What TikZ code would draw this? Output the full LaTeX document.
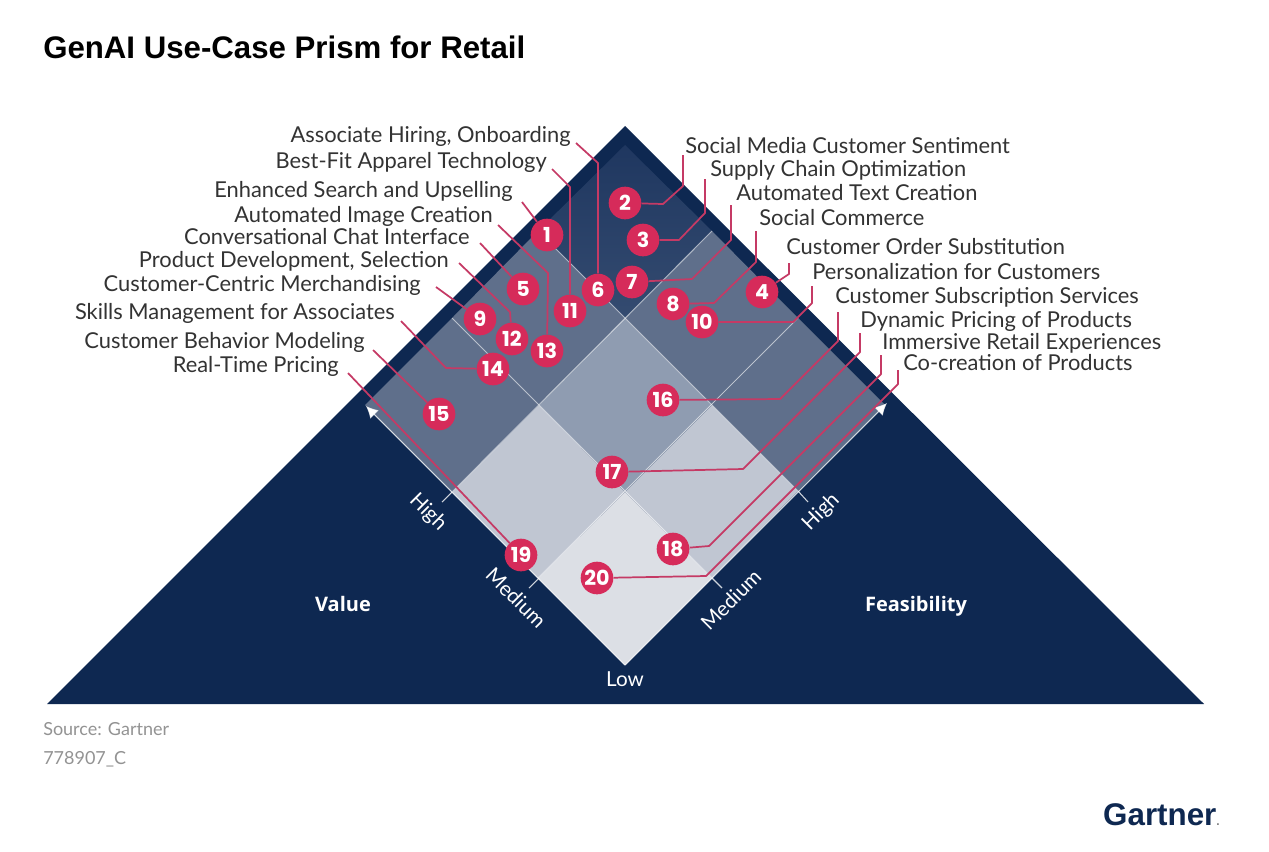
\documentclass[tikz,border=0pt]{standalone}
\usepackage{fontspec}
\usetikzlibrary{arrows.meta}
\setmainfont{Lato}
\newfontfamily\numfont{Poppins}
\newfontfamily\titlefont{Liberation Sans}
\newfontfamily\opfont{Open Sans}
\definecolor{navy}{HTML}{0E2851}
\definecolor{cA}{HTML}{DCDFE5}
\definecolor{cB}{HTML}{C0C6D2}
\definecolor{cC}{HTML}{8F9CB1}
\definecolor{cD}{HTML}{5F6F8B}
\definecolor{cEtop}{HTML}{1F3760}
\definecolor{cEbot}{HTML}{344B70}
\definecolor{crim}{HTML}{D62B5A}
\definecolor{lead}{HTML}{C53A65}
\definecolor{txt}{HTML}{333333}
\tikzset{
 lab/.style={font=\fontsize{16.4}{19}\selectfont,text=txt,inner sep=0pt,text height=12pt,text depth=0pt},
 lw/.style={lab,anchor=west},
 le/.style={lab,anchor=east},
 num/.style={circle,fill=crim,minimum size=24.5pt,inner sep=0pt,text=white,font=\numfont\bfseries\fontsize{15.5}{15.5}\selectfont},
 leader/.style={draw=lead,line width=1.3pt,line join=round},
 grid/.style={draw=white,draw opacity=.6,line width=.7pt},
 axis/.style={draw=white,draw opacity=.8,line width=.8pt},
 axlab/.style={text=white,font=\fontsize{15.5}{17}\selectfont,inner sep=0pt,text height=11pt,text depth=0pt},
 axbold/.style={axlab,font=\opfont\bfseries\fontsize{15}{17}\selectfont},
 foot/.style={anchor=west,inner sep=0pt,text=gray!85,font=\fontsize{13.5}{15}\selectfont,text height=10pt,text depth=0pt},
}
\begin{document}
\begin{tikzpicture}[x=0.75pt,y=-0.75pt]
\useasboundingbox (0,0) rectangle (1269,851);
\fill[white] (0,0) rectangle (1269,851);
\node[anchor=west,inner sep=0pt,font=\titlefont\bfseries\fontsize{23.4}{28}\selectfont,text=black] (title) at (43,47) {GenAI Use-Case Prism for Retail};
% prism
\fill[navy] (625,126) -- (1204,704) -- (47,704) -- cycle;
\fill[cA] (625,665) -- (538,578) -- (625,492) -- (712,578) -- cycle;
\fill[cB] (538,578) -- (452,492) -- (539,405) -- (625,492) -- cycle;
\fill[cB] (712,578) -- (625,492) -- (712,405) -- (798,491) -- cycle;
\fill[cC] (625,492) -- (539,405) -- (625,318) -- (712,405) -- cycle;
\fill[cD] (452,492) -- (365,405) -- (452,318) -- (539,405) -- cycle;
\fill[cD] (798,491) -- (712,405) -- (798,318) -- (885,405) -- cycle;
\fill[cD] (539,405) -- (452,318) -- (538,231) -- (625,318) -- cycle;
\fill[cD] (712,405) -- (625,318) -- (712,231) -- (798,318) -- cycle;
\shade[top color=cEtop,bottom color=cEbot] (625,318) -- (538,231) -- (625,145) -- (712,231) -- cycle;
\draw[grid] (452,318) -- (712,578);
\draw[grid] (538,231) -- (798,491);
\draw[grid] (798,318) -- (538,578);
\draw[grid] (712,231) -- (452,492);
% axes
\draw[axis,-{Latex[length=9pt,width=9pt]}] (625,665) -- (366,406);
\draw[axis,-{Latex[length=9pt,width=9pt]}] (625,665) -- (887,403);
\draw[axis] (452,492) -- (442,502);
\draw[axis] (539,578) -- (529,588);
\draw[axis] (798,491) -- (808,502);
\draw[axis] (712,578) -- (722,588);
\node[axlab,rotate=-45] (ahl) at (429,511) {High};
\node[axlab,rotate=-45] (aml) at (516,598) {Medium};
\node[axlab,rotate=45] (ahr) at (820,511) {High};
\node[axlab,rotate=45] (amr) at (731,600) {Medium};
\node[axlab] (alow) at (625,679) {Low};
\node[axbold] (value) at (343,604) {Value};
\node[axbold] (feas) at (916,604) {Feasibility};
% labels
\node[le] (l1) at (513,189) {Enhanced Search and Upselling};
\node[lw] (l2) at (685,145) {Social Media Customer Sentiment};
\node[lw] (l3) at (710,168) {Supply Chain Optimization};
\node[lw] (l4) at (786,246) {Customer Order Substitution};
\node[le] (l5) at (470,236) {Conversational Chat Interface};
\node[le] (l6) at (571,134) {Associate Hiring, Onboarding};
\node[lw] (l7) at (736,192) {Automated Text Creation};
\node[lw] (l8) at (759,217) {Social Commerce};
\node[le] (l9) at (421,283) {Customer-Centric Merchandising};
\node[lw] (l10) at (812,271) {Personalization for Customers};
\node[le] (l11) at (547,160) {Best-Fit Apparel Technology};
\node[le] (l12) at (449,259) {Product Development, Selection};
\node[le] (l13) at (493,214) {Automated Image Creation};
\node[le] (l14) at (395,311) {Skills Management for Associates};
\node[le] (l15) at (365,340) {Customer Behavior Modeling};
\node[lw] (l16) at (835,295) {Customer Subscription Services};
\node[lw] (l17) at (860,319) {Dynamic Pricing of Products};
\node[lw] (l18) at (882,341) {Immersive Retail Experiences};
\node[le] (l19) at (339,364) {Real-Time Pricing};
\node[lw] (l20) at (903,362) {Co-creation of Products};
% free ends
\coordinate (e1) at (522,202);
\coordinate (e2) at (683,155);
\coordinate (e3) at (705,179);
\coordinate (e4) at (789,263);
\coordinate (e5) at (480,243);
\coordinate (e6) at (576,143);
\coordinate (e7) at (731,205);
\coordinate (e8) at (756,231);
\coordinate (e9) at (436,287);
\coordinate (e10) at (812,286);
\coordinate (e11) at (552,169);
\coordinate (e12) at (459,263);
\coordinate (e13) at (498,225);
\coordinate (e14) at (401,321);
\coordinate (e15) at (373,350);
\coordinate (e16) at (838,312);
\coordinate (e17) at (860,333);
\coordinate (e18) at (881,355);
\coordinate (e19) at (348,373);
\coordinate (e20) at (898,370);
% circles
\node[num] (n1) at (547,235) {1};
\node[num] (n2) at (625,203) {2};
\node[num] (n3) at (643,240) {3};
\node[num] (n4) at (762,292) {4};
\node[num] (n5) at (523,289) {5};
\node[num] (n6) at (598,290) {6};
\node[num] (n7) at (632,282) {7};
\node[num] (n8) at (673,304) {8};
\node[num] (n9) at (480,319) {9};
\node[num] (n10) at (702,322) {10};
\node[num] (n11) at (570,311) {11};
\node[num] (n12) at (512,339) {12};
\node[num] (n13) at (547,351) {13};
\node[num] (n14) at (493,369) {14};
\node[num] (n15) at (439,414) {15};
\node[num] (n16) at (663,400) {16};
\node[num] (n17) at (612,472) {17};
\node[num] (n18) at (673,549) {18};
\node[num] (n19) at (521,555) {19};
\node[num] (n20) at (597,578) {20};
% leaders
\draw[leader] (e1) -- (n1);
\draw[leader] (e2) -- (683,186) -- (663,204) -- (n2);
\draw[leader] (e3) -- (705,213) -- (679,240) -- (n3);
\draw[leader] (e4) -- (789,274) -- (n4);
\draw[leader] (e5) -- (n5);
\draw[leader] (e6) -- (598,163) -- (n6);
\draw[leader] (e7) -- (731,240) -- (692,279) -- (n7);
\draw[leader] (e8) -- (756,262) -- (714,303) -- (n8);
\draw[leader] (e9) -- (n9);
\draw[leader] (e10) -- (812,303) -- (793,322) -- (n10);
\draw[leader] (e11) -- (570,187) -- (n11);
\draw[leader] (e12) -- (510,312) -- (n12);
\draw[leader] (e13) -- (548,273) -- (n13);
\draw[leader] (e14) -- (446,368) -- (n14);
\draw[leader] (e15) -- (n15);
\draw[leader] (e16) -- (838,341) -- (780,399) -- (n16);
\draw[leader] (e17) -- (860,352) -- (743,469) -- (n17);
\draw[leader] (e18) -- (881,374) -- (709,546) -- (n18);
\draw[leader] (e19) -- (n19);
\draw[leader] (e20) -- (898,384) -- (706,576) -- (n20);
% footer
\node[foot] (src) at (43,729) {Source: Gartner};
\node[foot] (code) at (43,758) {778907\_C};
\node[anchor=east,inner sep=0pt,text=navy,font=\titlefont\bfseries\fontsize{23.5}{26}\selectfont] (logo) at (1220,815) {Gartner\textcolor{gray}{\fontsize{9}{9}\selectfont.}};
\end{tikzpicture}
\end{document}
